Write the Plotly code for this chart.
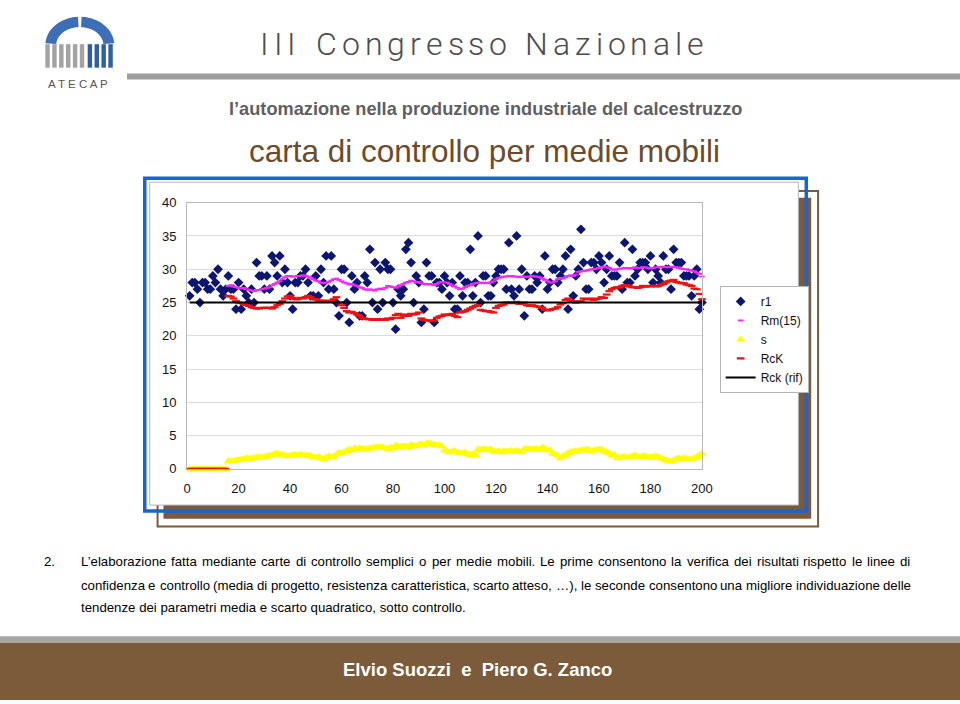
import numpy as np
import plotly.graph_objects as go

# page design frame is 960x704 px (figure kept 4 px shorter so the page never overflows)
W, H = 960, 700

# ---------------- data ----------------
idx = list(range(1, 201))

r1 = [26,28,28,27,25,28,28,27,27,29,
      28,30,27,26,27,29,27,27,24,28,
      24,27,26,25,27,25,31,29,29,27,
      29,27,32,31,29,32,28,30,28,26,
      24,28,28,29,29,30,28,26,26,29,
      26,30,28,32,27,32,27,25,23,30,
      30,25,22,29,27,28,23,23,29,28,
      33,25,31,24,30,25,31,30,30,25,
      21,27,26,27,33,34,31,25,29,28,
      22,24,31,29,29,22,28,28,27,29,
      28,26,28,24,24,29,26,28,28,33,
      26,28,35,25,29,29,26,26,28,29,
      30,30,30,27,34,27,26,35,27,30,
      23,29,27,27,29,28,29,24,32,27,
      28,30,30,28,29,30,32,24,33,26,
      29,30,36,31,27,27,31,31,30,32,
      31,28,30,32,29,29,29,31,27,34,
      28,28,33,29,30,31,31,31,30,32,
      28,30,29,28,32,30,30,27,33,31,
      31,31,29,29,29,26,29,30,24,25]

rm15 = [0,0,0,0,0,0,0,0,0,0,
        0,0,0,0,0,27.5,27.6,27.4,27.3,27.2,
        27.1,27.2,27.0,26.9,26.8,26.7,26.9,26.9,27.0,27.1,
        27.2,27.3,27.6,27.8,28.0,28.2,28.5,28.8,29.0,29.0,
        28.9,28.9,29.0,29.0,29.1,29.0,28.9,28.7,28.5,28.3,
        28.2,28.0,27.9,28.0,28.1,28.3,28.5,28.6,28.4,28.2,
        28.0,27.9,27.7,27.8,27.6,27.5,27.3,27.2,27.0,26.9,
        27.0,26.9,26.8,27.0,27.1,27.0,27.2,27.5,27.4,27.3,
        27.2,27.4,27.6,27.8,28.0,28.1,28.3,28.2,28.0,28.1,
        27.9,27.8,27.7,27.8,27.7,27.6,27.8,28.0,28.1,28.0,
        28.0,27.8,27.6,27.4,27.2,27.0,27.1,27.3,27.5,27.6,
        27.8,27.9,28.0,28.0,27.9,28.0,27.9,28.0,28.2,28.5,
        28.7,28.8,28.9,28.9,29.0,29.0,28.9,28.9,28.8,28.9,
        28.9,28.8,28.9,29.0,28.9,28.9,28.8,28.6,28.4,28.2,
        28.0,28.0,28.2,28.5,28.7,28.6,28.8,29.0,29.1,29.0,
        29.2,29.6,29.7,29.7,29.8,29.9,30.0,30.0,30.1,30.2,
        30.3,30.4,30.3,30.2,30.0,29.9,30.0,30.1,30.1,30.2,
        30.2,30.1,30.2,30.3,30.2,30.2,30.3,30.3,30.2,30.1,
        30.2,30.3,30.3,30.3,30.4,30.3,30.3,30.4,30.3,30.3,
        30.2,30.1,30.0,30.0,29.9,29.8,29.7,29.5,29.3,28.9]

s_dev = [0,0,0,0,0,0,0,0,0,0,
         0,0,0,0,0,1.2,1.1,1.2,1.3,1.3,
         1.4,1.5,1.6,1.5,1.6,1.6,1.7,1.7,1.8,1.8,
         1.9,2.0,2.1,2.2,2.3,2.2,2.1,2.0,1.9,2.0,
         2.0,2.1,2.1,2.1,2.0,2.1,2.0,1.9,1.8,1.7,
         1.8,1.6,1.5,1.7,1.9,1.8,1.9,2.2,2.4,2.4,
         2.5,2.7,2.9,2.8,3.1,3.0,3.1,3.0,2.9,3.0,
         3.1,3.1,3.2,3.3,3.2,3.2,3.1,3.0,3.2,3.1,
         3.5,3.3,3.3,3.4,3.4,3.3,3.6,3.5,3.4,3.6,
         3.7,3.5,3.8,3.9,3.7,3.6,3.5,3.6,3.4,2.8,
         2.6,2.5,2.6,2.7,2.5,2.4,2.3,2.5,2.2,2.1,
         2.2,2.1,2.9,2.8,3.0,2.9,2.8,2.9,2.7,2.6,
         2.6,2.5,2.7,2.6,2.6,2.7,2.6,2.7,2.6,2.5,
         3.0,2.9,3.0,2.9,2.9,3.0,2.9,3.2,3.0,2.8,
         2.8,2.3,2.2,2.0,1.6,1.9,2.1,2.4,2.5,2.6,
         2.7,2.6,2.8,2.8,2.9,2.8,2.7,2.8,2.8,2.9,
         2.9,2.6,2.5,2.4,2.1,2.1,1.6,1.7,1.8,1.8,
         1.7,1.8,1.9,2.0,1.9,1.8,1.9,1.9,1.8,1.7,
         1.8,1.9,1.7,1.6,1.5,1.3,1.2,1.1,1.3,1.5,
         1.6,1.5,1.6,1.5,1.4,1.5,1.6,1.8,2.1,2.3]

rck = [0,0,0,0,0,0,0,0,0,0,
       0,0,0,0,0,26.0,25.9,25.6,25.2,25.0,
       24.9,24.8,24.6,24.5,24.3,24.2,24.1,24.1,24.2,24.2,
       24.2,24.2,24.1,24.3,24.6,24.8,25.2,25.6,25.9,26.0,
       25.7,25.5,25.5,25.7,25.6,25.8,26.0,25.8,25.5,25.5,
       25.3,25.2,25.3,25.2,25.2,25.3,25.5,25.8,25.0,24.6,
       24.2,23.7,23.5,23.6,23.4,23.2,23.0,22.7,22.6,22.5,
       22.5,22.4,22.4,22.5,22.4,22.5,22.4,22.6,22.5,22.7,
       23.1,23.3,22.7,23.0,23.2,23.0,23.3,23.2,23.3,23.5,
       22.6,22.4,22.3,22.3,22.2,22.3,22.7,22.9,23.0,23.2,
       23.1,23.2,23.3,23.0,22.8,23.5,23.6,23.7,23.9,24.1,
       24.3,24.5,24.6,23.9,23.8,23.7,23.7,23.6,23.5,24.2,
       24.5,24.6,24.7,25.0,25.0,24.9,25.0,25.1,24.8,24.9,
       25.0,24.6,24.5,24.6,24.5,24.4,24.3,24.2,23.9,23.8,
       23.9,24.0,24.1,24.3,24.7,24.9,25.4,25.6,25.3,25.2,
       25.0,25.1,25.2,25.6,25.5,25.5,25.6,25.4,25.5,25.6,
       25.8,25.7,26.2,26.7,27.0,27.2,27.3,27.3,27.5,27.6,
       27.6,27.4,27.3,27.3,27.2,27.3,27.5,27.4,27.4,27.5,
       27.5,27.4,27.5,27.6,27.8,28.0,28.2,28.3,28.4,28.1,
       28.0,27.9,27.9,27.7,27.6,27.5,27.1,27.0,26.3,25.5]

rif_x = [1, 200]
rif_y = [25, 25]

for arr in (r1, rm15, s_dev, rck):
    assert len(arr) == 200, len(arr)

x_ticks = [0, 20, 40, 60, 80, 100, 120, 140, 160, 180, 200]
y_ticks = [0, 5, 10, 15, 20, 25, 30, 35, 40]

# ---------------- helpers (page px -> paper fraction) ----------------
def fx(x):
    return x / W

def fy(y):
    return 1 - y / H

FONT = "Liberation Sans, Arial, sans-serif"
NARROW = "Liberation Sans Narrow, Arial Narrow, Liberation Sans, sans-serif"

_AW = {" ": 278, "!": 278, "(": 333, ")": 333, ",": 278, "-": 333, ".": 278, ":": 278,
       "\u2019": 222, "\u2026": 1000}
_AW.update({c: 556 for c in "0123456789"})
_AW.update(dict(zip("ABCDEFGHIJKLMNOPQRSTUVWXYZ",
                    [667,667,722,722,667,611,778,722,278,500,667,556,833,722,778,667,778,722,667,611,722,667,944,667,667,611])))
_AW.update(dict(zip("abcdefghijklmnopqrstuvwxyz",
                    [556,556,500,556,556,278,556,556,222,222,500,222,833,556,556,556,556,333,500,278,556,500,722,500,500,500])))

def tw(s, size):
    return sum(_AW.get(c, 556) for c in s) * size / 1000.0

shapes = []
annotations = []

def rect(x0, y0, x1, y1, fill=None, line=None, lw=1, layer="below"):
    shapes.append(dict(type="rect", xref="paper", yref="paper",
                       x0=fx(x0), x1=fx(x1), y0=fy(y1), y1=fy(y0),
                       fillcolor=fill if fill else "rgba(0,0,0,0)",
                       line=dict(color=line if line else "rgba(0,0,0,0)", width=lw if line else 0),
                       layer=layer))

def path(pts, fill, layer="below"):
    d = "M " + " L ".join(f"{fx(a):.5f},{fy(b):.5f}" for a, b in pts) + " Z"
    shapes.append(dict(type="path", xref="paper", yref="paper", path=d,
                       fillcolor=fill, line=dict(width=0), layer=layer))

def text(x, y, s, size, color="#000", family=FONT, anchor="center", weight=None):
    f = dict(family=family, size=size, color=color)
    if weight:
        f["weight"] = weight
    annotations.append(dict(x=fx(x), y=fy(y), xref="paper", yref="paper", text=s,
                            showarrow=False, xanchor=anchor, yanchor="middle",
                            font=f, borderpad=0))

def justified(x0, x1, y, line, size):
    words = line.split(" ")
    total = sum(tw(w, size) for w in words)
    gap = (x1 - x0 - total) / (len(words) - 1)
    x = x0
    for w in words:
        text(x, y, w, size, anchor="left")
        x += tw(w, size) + gap

def tracked(xc, y, s, size, track, color, family, weight=None):
    widths = [tw(c, size) for c in s]
    total = sum(widths) + track * (len(s) - 1)
    x = xc - total / 2
    for c, w in zip(s, widths):
        if c != " ":
            text(x + w / 2, y, c, size, color, family=family, weight=weight)
        x += w + track

# ---------------- header ----------------
cx, cy = 77, 39
def arch(t0, t1):
    th = np.radians(np.linspace(t0, t1, 30))
    outer = [(cx + 35 * np.cos(t), cy - 29 * np.sin(t)) for t in th]
    inner = [(cx + 24 * np.cos(t), cy - 18.5 * np.sin(t)) for t in th[::-1]]
    return outer + inner
path(arch(176, 93), "#3d6fb6")
path(arch(87, 4), "#3d6fb6")
bar_x = [42, 49, 56, 63, 70, 77, 85, 92, 99, 106]
for i, bx in enumerate(bar_x):
    rect(bx, 38, bx + 4.5, 62, fill="#a3a3a3" if i < 6 else "#2f5ea6")
text(75, 79, "A T E C A P", 11.5, "#555555")

tracked(486, 38, "III Congresso Nazionale", 32, 5.0, "#4d4d4d",
        "Roboto, Liberation Sans, sans-serif", weight=300)
rect(125, 68, 975, 74, fill="#9e9e9e")

text(489, 104, "l\u2019automazione nella produzione industriale del calcestruzzo", 18.2,
     "#5f5f5f", family=NARROW, weight=700)
text(488, 147, "carta di controllo per medie mobili", 31.5, "#6b4b2b", family=NARROW)

# ---------------- chart frame ----------------
BROWN = "#7b5b3b"
rect(156, 188, 827, 531, line=BROWN, lw=2)
rect(162, 195, 820, 523, fill=BROWN)
rect(148, 179, 807, 509, fill="white", line="#b5b5b5", lw=1)
rect(143, 175, 815, 515, line="#1565d8", lw=3.5)

# ---------------- caption ----------------
cap1 = ("L\u2019elaborazione fatta mediante carte di controllo semplici o per medie mobili. "
        "Le prime consentono la verifica dei risultati rispetto le linee di")
cap2 = ("confidenza e controllo (media di progetto, resistenza caratteristica, scarto atteso, \u2026), "
        "le seconde consentono una migliore individuazione delle")
cap3 = "tendenze dei parametri media e scarto quadratico, sotto controllo."
csize = 385.0 / tw(cap3, 1.0)
text(40, 567, "2.", csize, anchor="left")
justified(77, 920, 567, cap1, csize)
justified(77, 920, 591, cap2, csize)
text(77, 614, cap3, csize, anchor="left")

# ---------------- footer ----------------
rect(-20, 643, 980, 650, fill="#a6a6a6")
rect(-20, 650, 980, 720, fill="#7b5b3a")
text(481, 677, "Elvio Suozzi  e  Piero G. Zanco", 18.5, "white", family=NARROW, weight=700)

# ---------------- traces ----------------
fig = go.Figure()
fig.add_trace(go.Scatter(x=idx, y=r1, mode="markers", name="r1", cliponaxis=False,
                         marker=dict(symbol="diamond", size=7.5, color="#0b1672")))
fig.add_trace(go.Scatter(x=idx, y=rm15, mode="markers", name="Rm(15)", cliponaxis=False,
                         marker=dict(symbol="line-ew", size=4,
                                     line=dict(color="#ff22ff", width=1.8))))
fig.add_trace(go.Scatter(x=idx, y=s_dev, mode="markers", name="s", cliponaxis=False,
                         marker=dict(symbol="triangle-up", size=8, color="#ffff00")))
fig.add_trace(go.Scatter(x=idx, y=rck, mode="markers", name="RcK", cliponaxis=False,
                         marker=dict(symbol="line-ew", size=5.5,
                                     line=dict(color="#ee1111", width=2.2))))
fig.add_trace(go.Scatter(x=rif_x, y=rif_y, mode="lines", name="Rck (rif)",
                         line=dict(color="black", width=2)))

axis_common = dict(showline=True, mirror=True, linecolor="#b8b8b8", linewidth=1,
                   gridcolor="#dcdcdc", gridwidth=1, zeroline=False,
                   tickfont=dict(family=FONT, size=13, color="#111"),
                   ticks="outside", tickcolor="rgba(0,0,0,0)")

fig.update_layout(
    width=W, height=H,
    margin=dict(l=0, r=0, t=0, b=0),
    paper_bgcolor="white", plot_bgcolor="rgba(0,0,0,0)",
    xaxis=dict(domain=[fx(186), fx(709)], range=[0, 200], tickvals=x_ticks,
               ticklen=8, showgrid=False, **axis_common),
    yaxis=dict(domain=[fy(472), fy(200)], range=[0, 40], tickvals=y_ticks,
               ticklen=7, showgrid=True, **axis_common),
    showlegend=True,
    legend=dict(x=fx(727), y=fy(285), xanchor="left", yanchor="top",
                bgcolor="white", bordercolor="#b5b5b5", borderwidth=1,
                font=dict(family=FONT, size=12, color="#111"),
                itemwidth=30, tracegroupgap=0),
    shapes=shapes, annotations=annotations,
)

fig.write_html("out.html")
